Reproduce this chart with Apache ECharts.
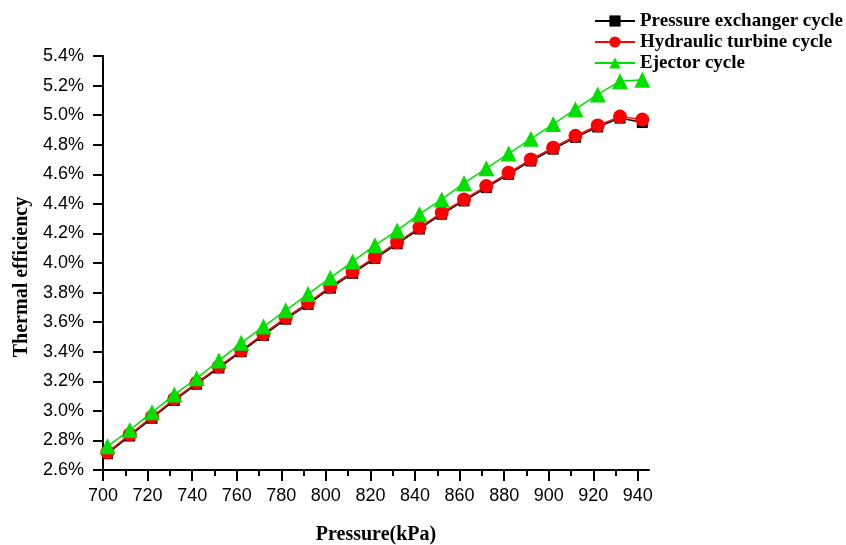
<!DOCTYPE html>
<html><head><meta charset="utf-8">
<script src="https://cdn.jsdelivr.net/npm/echarts@6/dist/echarts.min.js"></script>
<style>html,body{margin:0;padding:0;background:#fff}#c{width:846px;height:545px}</style>
</head><body><div id="c"></div>
<script>
const pressure = [702,712,722,732,742,752,762,772,782,792,802,812,822,832,842,852,862,872,882,892,902,912,922,932,942];
const pressureExchanger = [2.71,2.83,2.95,3.07,3.18,3.29,3.40,3.51,3.62,3.72,3.83,3.93,4.03,4.13,4.23,4.33,4.42,4.51,4.60,4.69,4.77,4.85,4.92,4.98,4.95];
const hydraulicTurbine = [2.72,2.84,2.96,3.08,3.19,3.30,3.41,3.52,3.63,3.73,3.84,3.94,4.04,4.14,4.24,4.34,4.43,4.52,4.61,4.70,4.78,4.86,4.93,4.99,4.97];
const ejector = [2.76,2.87,2.99,3.11,3.22,3.34,3.46,3.57,3.68,3.79,3.90,4.01,4.12,4.22,4.33,4.43,4.54,4.64,4.74,4.84,4.94,5.04,5.14,5.23,5.24];
const xMajorTicks = [700,720,740,760,780,800,820,840,860,880,900,920,940];
const xMinorTicks = [710,730,750,770,790,810,830,850,870,890,910,930];
const seriesNames = ['Pressure exchanger cycle','Hydraulic turbine cycle','Ejector cycle'];

const chart = echarts.init(document.getElementById('c'));
const serif = '"Liberation Serif","Times New Roman",serif';
const sans = '"Liberation Sans",Arial,sans-serif';
const pair = (vals) => pressure.map((p,i)=>[p,vals[i]]);
chart.setOption({
  animation:false,
  backgroundColor:'#fff',
  grid:{left:103,right:197,top:56,bottom:75,containLabel:false,outerBoundsMode:'none'},
  legend:{
    orient:'vertical', left:589, top:6, itemGap:1,
    itemWidth:40, itemHeight:14,
    textStyle:{fontFamily:serif,fontWeight:'bold',fontSize:19,lineHeight:20,color:'#000'},
    data:seriesNames
  },
  xAxis:[{
    type:'value', min:700, max:945,
    name:'Pressure(kPa)', nameLocation:'middle', nameGap:55,
    nameTextStyle:{fontFamily:serif,fontWeight:'bold',fontSize:20,color:'#000'},
    axisLine:{show:true,onZero:false,lineStyle:{color:'#000',width:2}},
    axisTick:{show:true,length:11,customValues:xMajorTicks,lineStyle:{color:'#000',width:2}},
    axisLabel:{customValues:xMajorTicks,margin:17,fontFamily:sans,fontSize:18,color:'#000'},
    splitLine:{show:false}
  },{
    type:'value', min:700, max:945, position:'bottom',
    axisLine:{show:false},
    axisTick:{show:true,length:6,customValues:xMinorTicks,lineStyle:{color:'#000',width:2}},
    axisLabel:{show:false},
    splitLine:{show:false}
  }],
  yAxis:{
    type:'value', min:2.6, max:5.4, interval:0.2,
    name:'Thermal efficiency', nameLocation:'middle', nameGap:69, nameRotate:90,
    nameTextStyle:{fontFamily:serif,fontWeight:'bold',fontSize:20,color:'#000',padding:[0,28,0,0]},
    axisLine:{show:true,onZero:false,lineStyle:{color:'#000',width:2}},
    axisTick:{show:true,length:10,lineStyle:{color:'#000',width:2}},
    axisLabel:{margin:19,fontFamily:sans,fontSize:18,color:'#000',formatter:(v)=>v.toFixed(1)+'%'},
    splitLine:{show:false}
  },
  series:[
    {name:seriesNames[0],type:'line',data:pair(pressureExchanger),symbol:'rect',symbolSize:11,
     lineStyle:{color:'#000',width:1.5},itemStyle:{color:'#000'}},
    {name:seriesNames[1],type:'line',data:pair(hydraulicTurbine),symbol:'circle',symbolSize:14,
     lineStyle:{color:'#ff0000',width:1.5},itemStyle:{color:'#ff0000'}},
    {name:seriesNames[2],type:'line',data:pair(ejector),symbol:'triangle',symbolSize:16,
     lineStyle:{color:'#00e000',width:1.5},itemStyle:{color:'#00e000'}}
  ]
});
</script></body></html>
